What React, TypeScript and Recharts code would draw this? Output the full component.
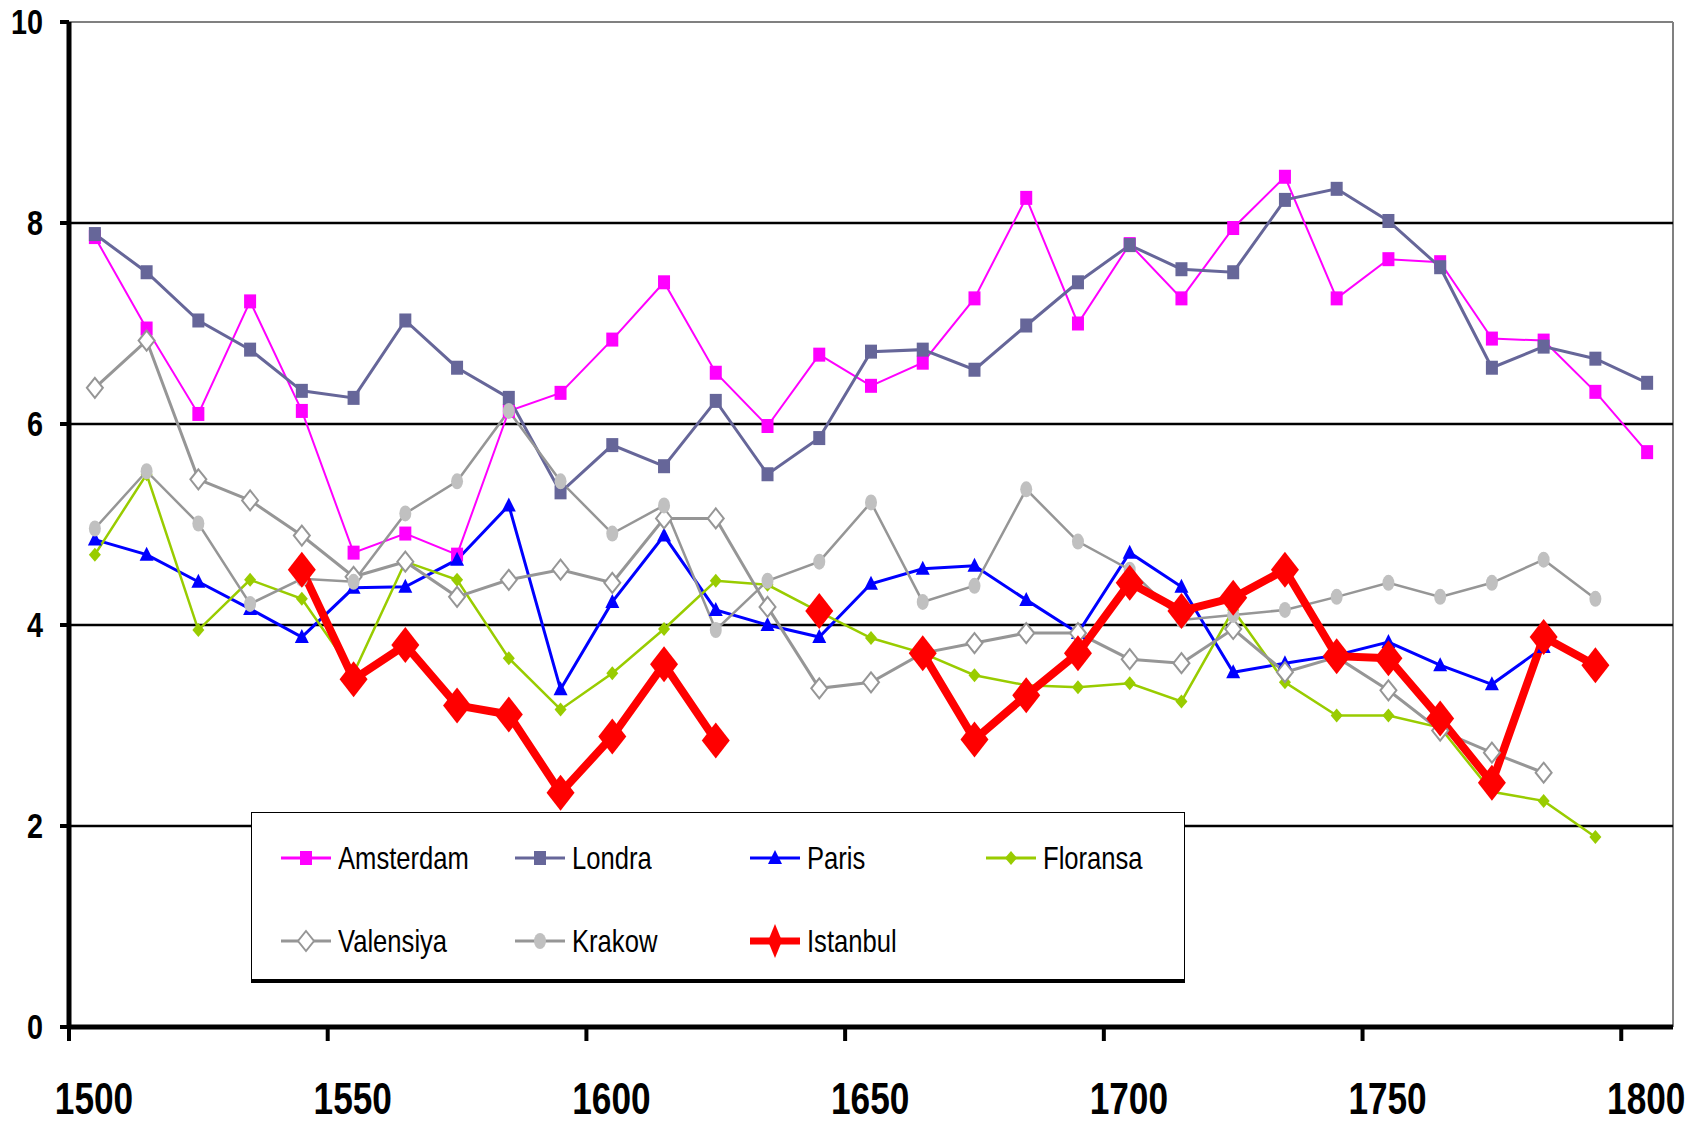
import { LineChart, Line, XAxis, YAxis, ReferenceLine } from 'recharts'

const years = [1505, 1515, 1525, 1535, 1545, 1555, 1565, 1575, 1585, 1595, 1605, 1615, 1625, 1635, 1645, 1655, 1665, 1675, 1685, 1695, 1705, 1715, 1725, 1735, 1745, 1755, 1765, 1775, 1785, 1795, 1805]

const amsterdam = [7.86, 6.95, 6.1, 7.22, 6.13, 4.72, 4.91, 4.7, 6.13, 6.31, 6.84, 7.41, 6.51, 5.98, 6.69, 6.38, 6.61, 7.25, 8.25, 7.0, 7.79, 7.25, 7.95, 8.46, 7.25, 7.64, 7.61, 6.85, 6.83, 6.32, 5.72]
const londra = [7.89, 7.51, 7.03, 6.74, 6.33, 6.26, 7.03, 6.56, 6.26, 5.32, 5.79, 5.58, 6.23, 5.5, 5.86, 6.72, 6.74, 6.54, 6.98, 7.41, 7.78, 7.54, 7.51, 8.23, 8.34, 8.02, 7.56, 6.56, 6.77, 6.65, 6.41]
const paris = [4.85, 4.7, 4.43, 4.16, 3.88, 4.37, 4.38, 4.65, 5.19, 3.36, 4.23, 4.89, 4.15, 4.0, 3.88, 4.41, 4.56, 4.59, 4.25, 3.92, 4.72, 4.38, 3.53, 3.62, 3.7, 3.83, 3.6, 3.41, 3.78, null, null]
const floransa = [4.7, 5.5, 3.95, 4.45, 4.26, 3.52, 4.63, 4.45, 3.67, 3.16, 3.52, 3.96, 4.44, 4.4, 4.13, 3.87, 3.72, 3.5, 3.4, 3.38, 3.42, 3.24, 4.15, 3.43, 3.1, 3.1, 2.98, 2.34, 2.25, 1.89, null]
const valensiya = [6.36, 6.83, 5.45, 5.24, 4.89, 4.48, 4.63, 4.28, 4.45, 4.55, 4.42, 5.06, 5.06, 4.18, 3.37, 3.43, 3.72, 3.82, 3.92, 3.92, 3.66, 3.62, 3.96, 3.53, 3.68, 3.35, 2.95, 2.73, 2.53, null, null]
const krakow = [4.96, 5.53, 5.01, 4.21, 4.46, 4.43, 5.11, 5.43, 6.13, 5.43, 4.91, 5.19, 3.95, 4.44, 4.63, 5.22, 4.23, 4.39, 5.35, 4.83, 4.55, 4.05, 4.1, 4.15, 4.28, 4.42, 4.28, 4.42, 4.65, 4.26, null]
const istanbul = [null, null, null, null, 4.55, 3.46, 3.8, 3.2, 3.11, 2.33, 2.89, 3.61, 2.85, null, 4.14, null, 3.72, 2.86, 3.3, 3.72, 4.42, 4.14, 4.27, 4.55, 3.69, 3.67, 3.07, 2.43, 3.88, 3.6, null]

const xTicks = [1500, 1550, 1600, 1650, 1700, 1750, 1800]
const yTicks = [0, 2, 4, 6, 8, 10]
const gridValues = [2, 4, 6, 8]

const data = years.map((year, i) => ({
  year,
  Amsterdam: amsterdam[i],
  Londra: londra[i],
  Paris: paris[i],
  Floransa: floransa[i],
  Valensiya: valensiya[i],
  Krakow: krakow[i],
  Istanbul: istanbul[i],
}))

// no narrow font installed, so text gets squeezed horizontally
const FONT = "'Liberation Sans', Arial, sans-serif"
const SQUEEZE = 0.8

type Shape = 'square' | 'triangle' | 'diamond' | 'hollowDiamond' | 'ellipse' | 'bigDiamond'

const marker = (shape: Shape, color: string, cx: number, cy: number, key?: string) => {
  switch (shape) {
    case 'square':
      return <rect key={key} x={cx - 6} y={cy - 7} width={12} height={14} fill={color} />
    case 'triangle':
      return <polygon key={key} points={`${cx},${cy - 8} ${cx + 7},${cy + 6} ${cx - 7},${cy + 6}`} fill={color} />
    case 'diamond':
      return <polygon key={key} points={`${cx},${cy - 7} ${cx + 6},${cy} ${cx},${cy + 7} ${cx - 6},${cy}`} fill={color} />
    case 'hollowDiamond':
      return <polygon key={key} points={`${cx},${cy - 10} ${cx + 8},${cy} ${cx},${cy + 10} ${cx - 8},${cy}`} fill="#fff" stroke={color} strokeWidth={2} />
    case 'ellipse':
      return <ellipse key={key} cx={cx} cy={cy} rx={6} ry={8} fill={color} />
    case 'bigDiamond':
      return <polygon key={key} points={`${cx},${cy - 18} ${cx + 14},${cy} ${cx},${cy + 18} ${cx - 14},${cy}`} fill={color} />
  }
}

const series: { name: string; color: string; width: number; shape: Shape; markColor: string }[] = [
  { name: 'Amsterdam', color: '#FF00FF', width: 2, shape: 'square', markColor: '#FF00FF' },
  { name: 'Londra', color: '#666699', width: 3, shape: 'square', markColor: '#666699' },
  { name: 'Paris', color: '#0000FF', width: 3, shape: 'triangle', markColor: '#0000FF' },
  { name: 'Floransa', color: '#99CC00', width: 2.5, shape: 'diamond', markColor: '#99CC00' },
  { name: 'Valensiya', color: '#969696', width: 3, shape: 'hollowDiamond', markColor: '#969696' },
  { name: 'Krakow', color: '#969696', width: 2.5, shape: 'ellipse', markColor: '#C0C0C0' },
  { name: 'Istanbul', color: '#FF0000', width: 8, shape: 'bigDiamond', markColor: '#FF0000' },
]

const XTick = (props: any) => {
  const { x, y, payload } = props
  return (
    <g transform={`translate(${x + 25},${y + 71}) scale(${SQUEEZE},1)`}>
      <text x={0} y={0} textAnchor="middle" fontSize={44} fontWeight={700} fontFamily={FONT} fill="#000">
        {payload.value}
      </text>
    </g>
  )
}

const YTick = (props: any) => {
  const { x, y, payload } = props
  return (
    <g transform={`translate(${x},${y + 12}) scale(${SQUEEZE},1)`}>
      <text x={0} y={0} textAnchor="end" fontSize={36} fontWeight={700} fontFamily={FONT} fill="#000">
        {payload.value}
      </text>
    </g>
  )
}

const LegendBox = () => {
  const cols = [280, 514, 749, 985]
  const rows = [857, 940]
  return (
    <div style={{ position: 'absolute', left: 251, top: 812, width: 932, height: 166, background: '#fff', border: '1.5px solid #000', borderBottom: '4px solid #000', fontFamily: FONT }}>
      {series.map((s, i) => {
        const cx = cols[i % 4] - 251
        const cy = rows[Math.floor(i / 4)] - 812
        return (
          <div key={s.name} style={{ position: 'absolute', left: cx, top: cy - 22, height: 44, display: 'flex', alignItems: 'center', whiteSpace: 'nowrap' }}>
            <svg width={50} height={44} style={{ overflow: 'visible' }}>
              <line x1={0} y1={22} x2={50} y2={22} stroke={s.color} strokeWidth={s.name === 'Istanbul' ? 7 : 3} />
              {s.name === 'Istanbul'
                ? <polygon points="25,5 32,22 25,39 18,22" fill="#FF0000" />
                : marker(s.shape, s.markColor, 25, 22)}
            </svg>
            <span style={{ display: 'inline-block', fontSize: 32, marginLeft: 7, color: '#000', lineHeight: '44px', transform: `scaleX(${SQUEEZE})`, transformOrigin: 'left center' }}>{s.name}</span>
          </div>
        )
      })}
    </div>
  )
}

export default function App() {
  return (
    <div style={{ position: 'absolute', left: 0, top: 0, width: 1707, height: 1125, background: '#fff' }}>
      <LineChart width={1707} height={1125} data={data} margin={{ top: 22, right: 34, left: 10, bottom: 0 }}>
        <XAxis
          dataKey="year"
          type="number"
          domain={[1500, 1810]}
          ticks={xTicks}
          allowDataOverflow
          height={98}
          tickSize={14}
          axisLine={{ stroke: '#000', strokeWidth: 5 }}
          tickLine={{ stroke: '#000', strokeWidth: 4 }}
          tick={<XTick />}
        />
        <YAxis
          type="number"
          domain={[0, 10]}
          ticks={yTicks}
          width={59}
          tickSize={9}
          tickMargin={17}
          axisLine={{ stroke: '#000', strokeWidth: 5 }}
          tickLine={{ stroke: '#000', strokeWidth: 4 }}
          tick={<YTick />}
        />
        <ReferenceLine y={10} stroke="#808080" strokeWidth={2} />
        <ReferenceLine x={1810} stroke="#808080" strokeWidth={2} />
        {gridValues.map((v) => (
          <ReferenceLine key={v} y={v} stroke="#000" strokeWidth={2.5} />
        ))}
        {series.map((s) => (
          <Line
            key={s.name}
            dataKey={s.name}
            stroke={s.color}
            strokeWidth={s.width}
            isAnimationActive={false}
            dot={(p: any) => (p.cy == null || p.value == null ? <g key={p.key} /> : marker(s.shape, s.markColor, p.cx, p.cy, p.key))}
            activeDot={false}
          />
        ))}
      </LineChart>
      <LegendBox />
    </div>
  )
}
